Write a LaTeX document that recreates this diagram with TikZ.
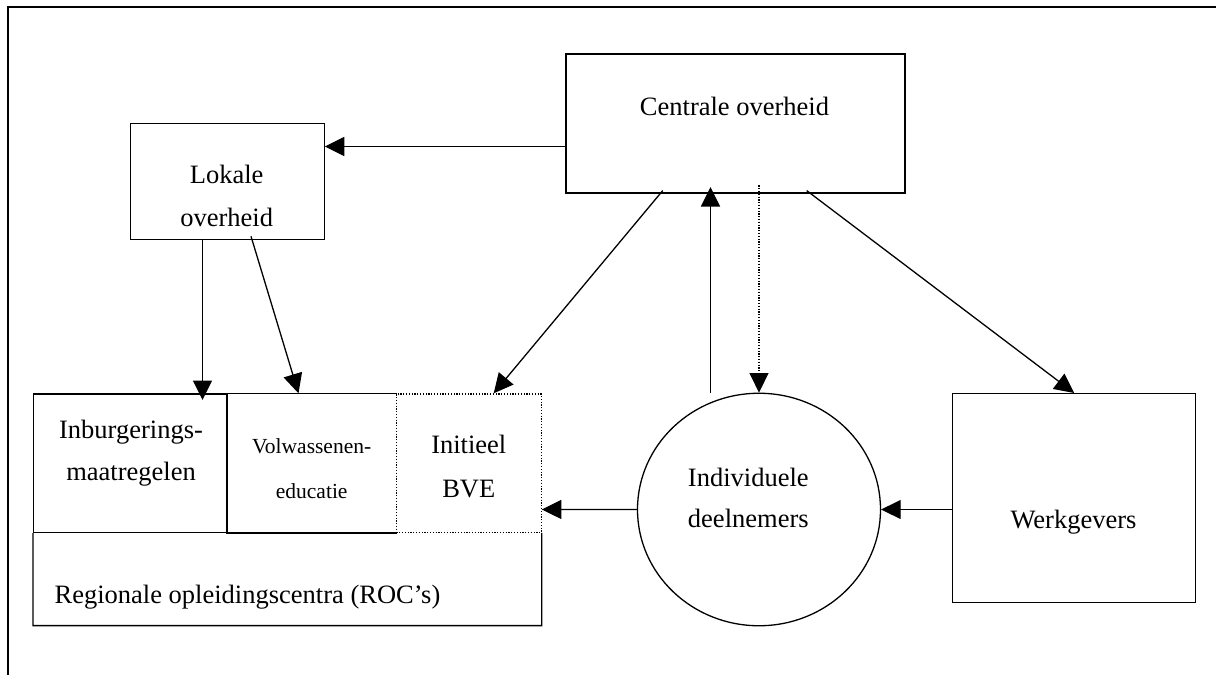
\documentclass[tikz,border=0pt]{standalone}
\usepackage{fontspec}
\setmainfont{Liberation Serif}
\usetikzlibrary{arrows.meta,calc,shapes.geometric}
\begin{document}
\begin{tikzpicture}[x=1pt,y=-1pt, line width=1.3pt,
  box/.style={draw, rectangle, inner sep=0pt, anchor=north west},
  lbl/.style={inner sep=0pt, align=center, font=\fontsize{26.5}{#1}\selectfont},
  lbl/.default=43,
  small/.style={inner sep=0pt, align=center, font=\fontsize{21.5}{45}\selectfont},
  arr/.style={-{Triangle[length=19.5pt,width=19pt]}},
  dots/.style={dash pattern=on 1.2pt off 1.6pt, line width=1.2pt}]
\useasboundingbox (0,0) rectangle (1216,675);
\fill[white] (0,0) rectangle (1216,675);
\draw (1216,7) -- (8,7) -- (8,675);

% Centrale overheid
\node[box, minimum width=339pt, minimum height=139pt] (centrale) at (565.3,53.3) {};
\node[lbl, anchor=base] (centraletxt) at (734.5,115) {Centrale overheid};

% Lokale overheid
\node[box, minimum width=193.5pt, minimum height=115.5pt] (lokale) at (130,123) {};
\node[lbl=42.7] (lokaletxt) at (226.7,196.2) {Lokale\\overheid};

% ROC
\node[anchor=north west, inner sep=0pt, minimum width=507.5pt, minimum height=231pt] (roc) at (33,393.3) {};
\node[box, minimum width=193.7pt, minimum height=138.4pt] (inb) at (33,393.3) {};
\node[anchor=north west, inner sep=0pt, minimum width=169pt, minimum height=138.4pt] (vol) at (226.7,393.3) {};
\draw (vol.north east) -- (vol.north west) -- (vol.south west) -- (vol.south east);
\node[box, dots, minimum width=144.8pt, minimum height=138.4pt] (bve) at (395.7,393.3) {};
\draw (inb.south west) -- (roc.south west) -- (roc.south east) -- (bve.south east);

\node[lbl=42.4] (inbtxt) at (131,453.4) {Inburgerings-\\maatregelen};
\node[small] (voltxt) at (311.7,468.5) {Volwassenen-\\educatie};
\node[lbl=44.4] (bvetxt) at (468.8,466.5) {Initieel\\BVE};
\node[lbl, anchor=base west] (roctxt) at (54,603.3) {Regionale opleidingscentra (ROC’s)};

% Individuele deelnemers
\node[draw, ellipse, inner sep=0pt, minimum width=243pt, minimum height=232.5pt] (indiv) at (759,509.5) {};
\node[lbl=40.6] (indivtxt) at (748.3,498) {Individuele\\deelnemers};

% Werkgevers
\node[box, minimum width=243pt, minimum height=209pt] (werk) at (952,393) {};
\node[lbl, anchor=base] (werktxt) at (1073.5,528.3) {Werkgevers};

% helper coordinates
\coordinate (yA) at (0,146.5);
\coordinate (xB) at (202.5,0);
\coordinate (xUp) at (710.5,0);
\coordinate (xDot) at (759,0);

% connectors
\draw[arr] (centrale.west |- yA) -- (lokale.east |- yA);
\draw[arr] (lokale.south -| xB) -- ($(inb.north -| xB)+(0,6.7)$);
\draw[arr] ($(lokale.south west)+(121,-3.5)$) -- ($(vol.north west)+(71.8,0)$);
\draw[arr] ($(centrale.south west)+(97.4,-3)$) -- ($(bve.north west)+(98,0)$);
\draw[arr] (indiv.north -| xUp) -- ($(centrale.south -| xUp)+(0,-6.6)$);
\draw[arr, dots] ($(centrale.south -| xDot)+(0,-8.3)$) -- (indiv.north);
\draw[arr] ($(centrale.south west)+(241.4,-3)$) -- (werk.north);
\draw[arr] (werk.west |- indiv.east) -- (indiv.east);
\draw[arr] (indiv.west) -- (roc.east);
\end{tikzpicture}
\end{document}
